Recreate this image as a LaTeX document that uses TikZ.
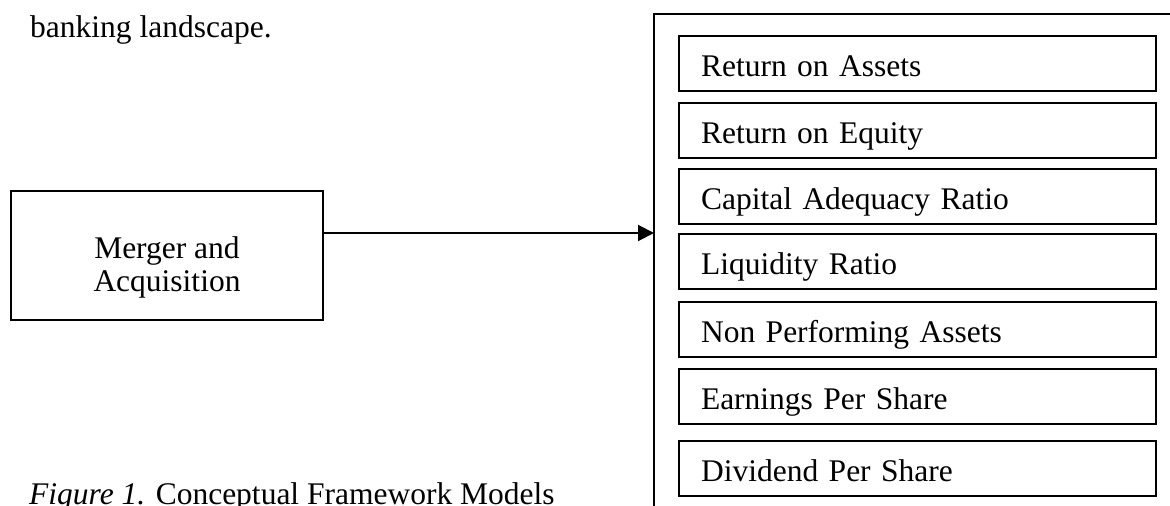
\documentclass[tikz,border=0pt]{standalone}
\usepackage{fontspec}
\setmainfont{Liberation Serif}
\usetikzlibrary{arrows.meta,calc}
\begin{document}
\begin{tikzpicture}[x=1pt,y=-1pt,
  every node/.style={font=\fontsize{31.5}{36.2}\selectfont, inner sep=0pt},
  box/.style={draw, line width=2pt, inner sep=0pt},
  metric/.style={box, anchor=north west, minimum width=477pt, minimum height=55pt,
    inner xsep=22pt, inner ysep=0pt, text width=433pt, align=left,
    text height=26pt, text depth=0pt},
  frame/.style={line width=2pt},
  link/.style={line width=2pt, -{Triangle[length=16pt,width=16pt]}},
  txt/.style={anchor=base west}]
  \useasboundingbox (0,0) rectangle (1170,506);

  % running text above and the caption below
  \node[txt] (para) at (30,37) {banking landscape.};
  \node[txt] (caption) at (29,504) {\textit{Figure 1.} Conceptual Framework Models};

  % independent variable
  \node[box, anchor=north west, minimum width=312pt, minimum height=129pt] (merger) at (10,190) {};
  \node[anchor=base] (mline1) at ($(merger.north)+(0,68)$) {Merger and};
  \node[anchor=base] (mline2) at ($(merger.north)+(0,101)$) {Acquisition};

  % dependent variables: open frame holding the performance indicators
  \draw[frame] (1170,14) -- (654,14) -- (654,506);
  \coordinate (hit) at (654,233);

  \node[metric] (roa) at (678,35)  {Return on Assets};
  \node[metric] (roe) at (678,102) {Return on Equity};
  \node[metric] (car) at (678,168) {Capital Adequacy Ratio};
  \node[metric] (lr)  at (678,233) {Liquidity Ratio};
  \node[metric] (npa) at (678,301) {Non Performing Assets};
  \node[metric] (eps) at (678,368) {Earnings Per Share};
  \node[metric] (dps) at (678,440) {Dividend Per Share};

  \draw[link] (merger.east |- hit) -- (hit);
\end{tikzpicture}
\end{document}
